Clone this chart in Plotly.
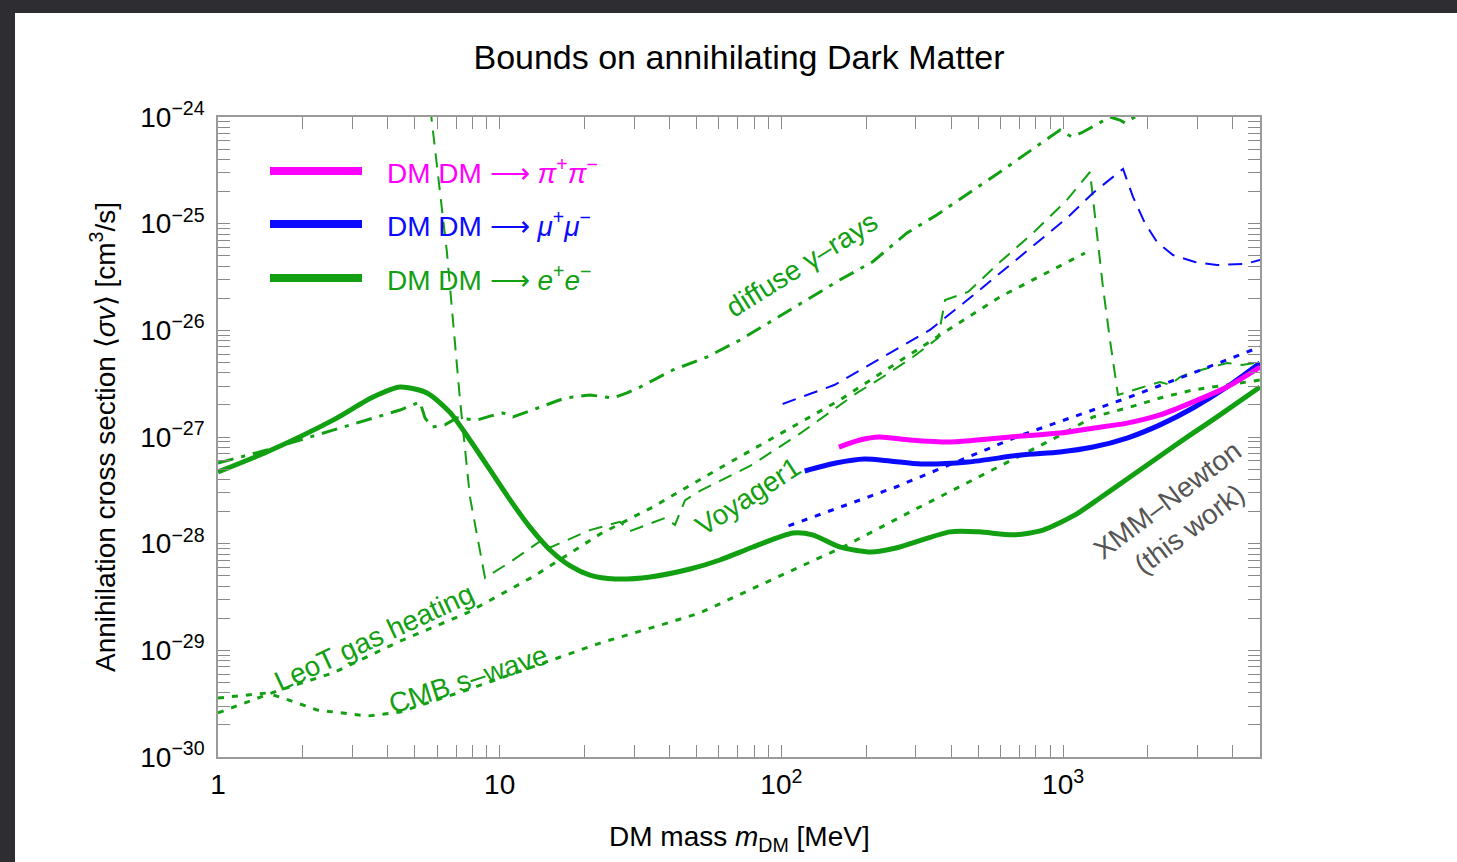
import numpy as np
import plotly.graph_objects as go

# ---------------- data (DM mass in MeV, <sigma v> in cm^3/s) ----------------
# XMM-Newton e+e- (this work)
xmm_ee_m = [1.0, 1.49, 2.56, 3.55, 4.43, 5.52, 6.66, 7.84, 9.24, 10.9, 12.8, 15.1, 17.8, 20.9, 25.7,
            34.2, 47.4, 60.5, 79.3, 110, 129, 161, 208, 255, 397, 503, 670, 849, 1103, 1352,
            1728, 2208, 2821, 3606, 5000]
xmm_ee_sv = [4.70e-28, 7.23e-28, 1.44e-27, 2.37e-27, 2.94e-27, 2.59e-27, 1.70e-27, 9.37e-28, 4.91e-28,
             2.56e-28, 1.43e-28, 8.73e-29, 6.18e-29, 5.08e-29, 4.67e-29, 4.88e-29, 5.79e-29, 7.03e-29,
             9.31e-29, 1.26e-28, 1.21e-28, 9.31e-29, 8.34e-29, 9.1e-29, 1.29e-28, 1.29e-28, 1.21e-28,
             1.34e-28, 1.86e-28, 2.68e-28, 4.22e-28, 6.64e-28, 1.04e-27, 1.61e-27, 2.94e-27]

# XMM-Newton pi+pi-
xmm_pi_m = [160, 190, 222, 286, 397, 597, 709, 975, 1277, 1686, 2208, 2891, 3818, 5000]
xmm_pi_sv = [8.05e-28, 9.37e-28, 1.0e-27, 9.37e-28, 8.97e-28, 9.78e-28, 1.02e-27, 1.09e-27, 1.21e-27,
             1.35e-27, 1.61e-27, 2.13e-27, 2.94e-27, 4.53e-27]

# XMM-Newton mu+mu-
xmm_mu_m = [121, 156, 197, 243, 313, 460, 709, 975, 1277, 1686, 2208, 2891, 3818, 5000]
xmm_mu_sv = [4.80e-28, 5.70e-28, 6.22e-28, 5.96e-28, 5.58e-28, 5.83e-28, 6.78e-28, 7.23e-28, 8.05e-28,
             9.78e-28, 1.30e-27, 1.87e-27, 2.94e-27, 4.94e-27]

# mu+mu- dashed bound
mu_dash_m = [101, 154, 229, 337, 471, 597, 808, 1032, 1277, 1632, 1771, 1953, 2154, 2455, 2939, 3518,
             4423, 5000]
mu_dash_sv = [2.04e-27, 3.07e-27, 5.62e-27, 1.01e-26, 2.05e-26, 3.45e-26, 6.59e-26, 1.13e-25, 1.94e-25,
              3.26e-25, 1.78e-25, 1.01e-25, 6.73e-26, 5.08e-26, 4.37e-26, 4.10e-26, 4.19e-26, 4.56e-26]

# mu+mu- dotted bound
mu_dot_m = [106, 255, 709, 1686, 2891, 5000]
mu_dot_sv = [1.47e-28, 3.40e-28, 1.04e-27, 2.32e-27, 3.98e-27, 6.98e-27]

# diffuse gamma-rays (e+e-)
gam_m = [1.0, 1.49, 2.56, 4.43, 5.21, 5.43, 5.75, 6.39, 7.05, 8.31, 9.24, 10.27, 11.15, 12.5, 13.9,
         17.05, 20.9, 25.3, 28.3, 31.5, 41.2, 54.4, 71.3, 93.4, 123, 161, 211, 279, 357, 597, 898,
         975, 1016, 1076, 1177, 1352, 1467, 1592, 1658, 1771, 1921]
gam_sv = [5.70e-28, 7.55e-28, 1.16e-27, 1.79e-27, 2.13e-27, 1.51e-27, 1.24e-27, 1.30e-27, 1.51e-27,
          1.44e-27, 1.57e-27, 1.68e-27, 1.54e-27, 1.72e-27, 1.91e-27, 2.32e-27, 2.48e-27, 2.32e-27,
          2.59e-27, 2.94e-27, 4.25e-27, 5.62e-27, 8.11e-27, 1.25e-26, 1.92e-26, 2.96e-26, 4.4e-26,
          8.18e-26, 1.21e-25, 3.05e-25, 6.50e-25, 7.55e-25, 7.08e-25, 6.50e-25, 7.23e-25, 8.79e-25,
          1.0e-24, 9.37e-25, 8.79e-25, 9.78e-25, 1.09e-24]

# Voyager1 (e+e-)
voy_m = [5.55, 6.50, 7.23, 7.84, 8.87, 10.9, 14.1, 14.7, 20.9, 26.7, 29.0, 38.6, 41.9, 45.5, 51.4, 77.4,
         116, 185.5, 229, 293, 360, 381, 460, 597, 782, 1032, 1246, 1319, 1385, 1467, 1566, 1875,
         2208, 2396, 2600, 2821, 3818, 4315, 5000]
voy_sv = [2.0e-24, 5.31e-26, 2.22e-27, 2.74e-28, 4.77e-29, 6.73e-29, 1.08e-28, 8.91e-29, 1.34e-28,
          1.60e-28, 1.31e-28, 1.74e-28, 1.50e-28, 2.56e-28, 3.12e-28, 5.35e-28, 1.07e-27, 2.59e-27,
          3.65e-27, 5.62e-27, 8.47e-27, 1.92e-26, 2.29e-26, 4.37e-26, 8.18e-26, 1.67e-25, 3.05e-25,
          8.18e-26, 2.55e-26, 8.11e-27, 2.48e-27, 2.88e-27, 3.28e-27, 3.08e-27, 3.65e-27, 3.98e-27,
          4.94e-27, 4.73e-27, 5.05e-27]

# LeoT gas heating (e+e-)
leot_m = [1.0, 1.62, 2.56, 4.43, 7.65, 13.1, 22.7, 35.0, 60.5, 104.7, 161, 310, 597, 1196]
leot_sv = [2.59e-30, 4.16e-30, 6.14e-30, 1.22e-29, 2.24e-29, 4.88e-29, 1.23e-28, 2.21e-28, 5.12e-28,
           1.16e-27, 2.22e-27, 6.82e-27, 2.06e-26, 5.31e-26]

# CMB s-wave (e+e-)
cmb_m = [1.0, 1.49, 1.70, 2.25, 3.38, 4.43, 7.65, 13.1, 22.7, 39.3, 51.4, 91.9, 165.5, 295.6, 532, 951,
         1277, 1686, 2208, 2891, 3818, 5000]
cmb_sv = [3.57e-30, 3.98e-30, 3.57e-30, 2.76e-30, 2.42e-30, 2.64e-30, 4.25e-30, 6.98e-30, 1.17e-29,
          1.80e-29, 2.24e-29, 4.56e-29, 9.31e-29, 2.07e-28, 4.60e-28, 1.0e-27, 1.54e-27, 1.87e-27,
          2.32e-27, 2.76e-27, 3.08e-27, 3.42e-27]

# axes
x_range = [1, 5000]
y_range = [1e-30, 1e-24]
x_major_vals = [1, 10, 100, 1000]
x_major_text = ["1", "10", "10<sup>2</sup>", "10<sup>3</sup>"]
y_exponents = [-30, -29, -28, -27, -26, -25, -24]

# ---------------- style ----------------
GREEN = "#12a012"
BLUE = "#0a0aff"
MAGENTA = "#ff00ff"
GRAY_TXT = "#555555"
FONT = "Liberation Sans, Arial, Helvetica, sans-serif"
DOT = "6px,8px"
DASH = "14px,9px"
DASHDOT = "16px,8px,4px,8px"

fig = go.Figure()


def add_line(x, y, color, width, dash="solid", shape="linear"):
    fig.add_trace(go.Scatter(
        x=x, y=y, mode="lines",
        line=dict(color=color, width=width, dash=dash, shape=shape, smoothing=0.7),
        showlegend=False, hoverinfo="skip"))


add_line(cmb_m, cmb_sv, GREEN, 3, DOT)
add_line(leot_m, leot_sv, GREEN, 3, DOT)
add_line(gam_m, gam_sv, GREEN, 3, DASHDOT)
add_line(voy_m, voy_sv, GREEN, 2, DASH)
add_line(mu_dash_m, mu_dash_sv, BLUE, 2, DASH)
add_line(mu_dot_m, mu_dot_sv, BLUE, 3, DOT)
add_line(xmm_ee_m, xmm_ee_sv, GREEN, 5, "solid", "spline")
add_line(xmm_mu_m, xmm_mu_sv, BLUE, 5, "solid", "spline")
add_line(xmm_pi_m, xmm_pi_sv, MAGENTA, 5, "solid", "spline")

# minor ticks
x_minor = [k * d for d in [1, 10, 100, 1000] for k in range(2, 10) if k * d <= x_range[1]]
y_major = [10.0 ** e for e in y_exponents]
y_major_text = ["10<sup>\u2212%d</sup>" % (-e) for e in y_exponents]
y_minor = [k * 10.0 ** e for e in y_exponents[:-1] for k in range(2, 10)]

axis_common = dict(
    showline=True, linecolor="#9a9a9a", linewidth=1.5, mirror="ticks",
    ticks="inside", ticklen=12, tickwidth=1, tickcolor="#8a8a8a",
    showgrid=False, zeroline=False,
    tickfont=dict(family=FONT, size=28, color="black"),
)
minor_common = dict(ticks="inside", ticklen=12, tickwidth=1, tickcolor="#8a8a8a", showgrid=False)

fig.update_xaxes(type="log", range=[np.log10(x_range[0]), np.log10(x_range[1])],
                 tickmode="array", tickvals=x_major_vals, ticktext=x_major_text,
                 minor=dict(tickmode="array", tickvals=x_minor, **minor_common),
                 ticklabelstandoff=2, **axis_common)
fig.update_yaxes(type="log", range=[np.log10(y_range[0]), np.log10(y_range[1])],
                 tickmode="array", tickvals=y_major, ticktext=y_major_text,
                 minor=dict(tickmode="array", tickvals=y_minor, **minor_common),
                 ticklabelstandoff=6, **axis_common)

# plot-area geometry in pixels
L, R, T, B = 218, 197, 117, 105
W, H = 1457, 862
pw, ph = W - L - R, H - T - B


def px2paper(px, py):
    return (px - L) / pw, (H - B - py) / ph


shapes = []
# white page over dark background
x0, y1 = px2paper(15, 13)
x1, y0 = px2paper(W + 5, H + 5)
shapes.append(dict(type="rect", xref="paper", yref="paper", x0=x0, x1=x1, y0=y0, y1=y1,
                   fillcolor="white", line=dict(width=0), layer="below"))

annotations = []
# legend
legend_items = [
    (MAGENTA, "DM DM \u27f6 <i>\u03c0</i><sup>+</sup><i>\u03c0</i><sup>\u2212</sup>", 171),
    (BLUE, "DM DM \u27f6 <i>\u03bc</i><sup>+</sup><i>\u03bc</i><sup>\u2212</sup>", 224),
    (GREEN, "DM DM \u27f6 <i>e</i><sup>+</sup><i>e</i><sup>\u2212</sup>", 278),
]
for col, txt, py in legend_items:
    ax0, ay = px2paper(270, py)
    ax1, _ = px2paper(362, py)
    shapes.append(dict(type="line", xref="paper", yref="paper", x0=ax0, x1=ax1, y0=ay, y1=ay,
                       line=dict(color=col, width=8)))
    tx, _ = px2paper(385, py)
    annotations.append(dict(xref="paper", yref="paper", x=tx, y=ay, xanchor="left", yanchor="middle",
                            text=txt, showarrow=False, font=dict(family=FONT, size=28, color=col)))

# curve labels (positions in log10 data units)
labels = [
    ("diffuse \u03b3\u2013rays", 2.073, -25.387, -32, GREEN),
    ("Voyager1", 1.881, -27.56, -33, GREEN),
    ("LeoT gas heating", 0.554, -28.875, -25, GREEN),
    ("CMB s\u2013wave", 0.888, -29.278, -18, GREEN),
    ("XMM\u2013Newton<br>(this work)", 3.408, -27.722, -37, GRAY_TXT),
]
for txt, lx, ly, ang, col in labels:
    annotations.append(dict(xref="x", yref="y", x=lx, y=ly, text=txt, textangle=ang, showarrow=False,
                            xanchor="center", yanchor="middle",
                            font=dict(family=FONT, size=28, color=col)))

# axis titles
tx, ty = px2paper(103, 437)
annotations.append(dict(xref="paper", yref="paper", x=tx, y=ty, textangle=-90, showarrow=False,
                        xanchor="center", yanchor="middle",
                        text="Annihilation cross section \u27e8<i>\u03c3v</i>\u27e9 [cm<sup>3</sup>/s]",
                        font=dict(family=FONT, size=28, color="black")))
tx, ty = px2paper(739, 838)
annotations.append(dict(xref="paper", yref="paper", x=tx, y=ty, showarrow=False,
                        xanchor="center", yanchor="middle",
                        text="DM mass <i>m</i><sub>DM</sub> [MeV]",
                        font=dict(family=FONT, size=28, color="black")))

fig.update_layout(
    width=W, height=H,
    margin=dict(l=L, r=R, t=T, b=B),
    paper_bgcolor="#2d2d32",
    plot_bgcolor="white",
    title=dict(text="Bounds on annihilating Dark Matter", x=0.5, xref="paper",
               y=1 - 57 / H, yref="container", xanchor="center", yanchor="middle",
               font=dict(family=FONT, size=34, color="black")),
    shapes=shapes,
    annotations=annotations,
    showlegend=False,
)

fig.write_html("out.html")
